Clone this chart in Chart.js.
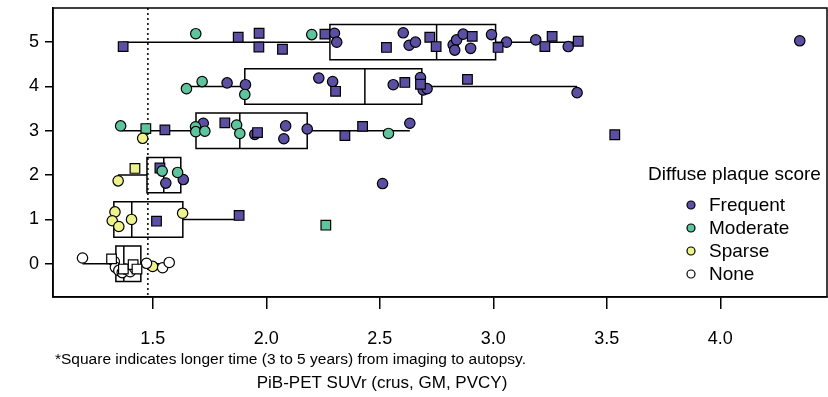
<!DOCTYPE html>
<html>
<head>
<meta charset="utf-8">
<script src="https://cdn.jsdelivr.net/npm/chart.js@4.4.1/dist/chart.umd.min.js"></script>
<style>
  html, body { margin: 0; padding: 0; background: #fff; }
</style>
</head>
<body>
<canvas id="myChart" width="828" height="397"></canvas>
<script>
// ---- data ----
const xTicks = [1.5, 2.0, 2.5, 3.0, 3.5, 4.0];
const yTicks = [0, 1, 2, 3, 4, 5];
const cutoff = 1.478;

// box plot per plaque row (0..5)
const boxRows = [0, 1, 2, 3, 4, 5];
const boxMin = [1.19, 1.328, 1.346, 1.363, 1.648, 1.369];
const boxQ1  = [1.337, 1.328, 1.474, 1.69, 1.905, 2.28];
const boxMed = [1.372, 1.407, 1.548, 1.883, 2.434, 2.75];
const boxQ3  = [1.447, 1.632, 1.623, 2.18, 2.685, 3.01];
const boxMax = [1.572, 1.88, 1.634, 2.632, 3.369, 3.374];

// diffuse plaque score groups
const groups = ['Frequent', 'Moderate', 'Sparse', 'None'];
const groupColors = ['#5b4fa3', '#5ec49d', '#eef28b', '#ffffff'];

// [SUVr, jittered score] ; circles = shorter time, squares = 3 to 5 years
const frequentCircles = [
  [2.30, 5.20], [2.31, 5.00], [2.603, 5.21], [2.629, 4.93], [2.657, 5.00], [2.823, 4.94],
  [2.838, 5.05], [2.867, 5.18], [2.830, 4.82], [2.900, 4.86], [2.992, 5.17], [3.058, 5.00],
  [3.187, 5.05], [3.33, 4.90], [4.35, 5.03],
  [1.827, 4.08], [1.908, 4.04], [2.231, 4.19], [2.292, 4.11], [2.559, 4.04], [2.679, 4.20],
  [2.691, 3.92], [2.708, 3.95], [3.369, 3.86],
  [1.722, 3.17], [1.949, 2.92], [2.085, 3.11], [2.077, 2.82], [2.18, 3.04], [2.632, 3.17],
  [1.557, 1.82], [1.634, 1.90], [2.512, 1.81]
];
const frequentSquares = [
  [1.369, 4.90], [1.876, 5.11], [1.968, 5.20], [1.967, 4.89], [2.071, 4.84], [2.258, 5.18],
  [2.529, 4.88], [2.72, 5.11], [2.748, 4.90], [2.907, 5.13], [3.021, 4.88], [3.227, 4.90],
  [3.259, 5.13], [3.374, 5.02],
  [2.305, 3.89], [2.610, 4.09], [2.679, 4.05], [2.886, 4.16],
  [1.553, 3.02], [1.817, 3.18], [1.961, 2.96], [2.346, 2.89], [2.424, 3.10], [3.535, 2.91],
  [1.531, 2.16],
  [1.516, 0.96], [1.88, 1.09]
];
const moderateCircles = [
  [1.689, 5.19], [2.20, 5.17],
  [1.648, 3.95], [1.717, 4.11], [1.905, 3.82],
  [1.358, 3.11], [1.688, 3.09], [1.689, 2.98], [1.729, 2.99], [1.869, 3.13], [1.883, 2.94], [2.538, 2.94],
  [1.541, 2.09], [1.609, 2.06]
];
const moderateSquares = [[1.469, 3.05], [2.262, 0.87]];
const sparseCircles = [
  [1.455, 2.83], [1.347, 1.87],
  [1.333, 1.17], [1.321, 0.97], [1.350, 0.84], [1.406, 1.00], [1.631, 1.14],
  [1.499, -0.06]
];
const sparseSquares = [[1.421, 2.15]];
const noneCircles = [
  [1.19, 0.13], [1.33, 0.05], [1.335, -0.08], [1.35, -0.15], [1.365, -0.20], [1.38, -0.12],
  [1.40, -0.18], [1.42, -0.10], [1.472, 0.01], [1.543, -0.09], [1.572, 0.03]
];
const noneSquares = [[1.318, 0.11], [1.37, -0.12], [1.413, -0.02], [1.43, -0.12]];

const footnote = '*Square indicates longer time (3 to 5 years) from imaging to autopsy.';
const xTitle = 'PiB-PET SUVr (crus, GM, PVCY)';
const legendTitle = 'Diffuse plaque score';

// ---- chart ----
const FONT = '"Liberation Sans", Arial, Helvetica, sans-serif';
const toPts = arr => arr.map(p => ({ x: p[0], y: p[1] }));

const pointSets = [
  [frequentCircles, frequentSquares],
  [moderateCircles, moderateSquares],
  [sparseCircles, sparseSquares],
  [noneCircles, noneSquares]
];

const datasets = [];
pointSets.forEach((pair, i) => {
  datasets.push({
    label: groups[i], data: toPts(pair[0]), pointStyle: 'circle', pointRadius: 5.2,
    backgroundColor: groupColors[i], borderColor: '#000', borderWidth: 1.2
  });
  datasets.push({
    label: groups[i] + ' (3-5 y)', data: toPts(pair[1]), pointStyle: 'rect', pointRadius: 6.8,
    backgroundColor: groupColors[i], borderColor: '#000', borderWidth: 1.2
  });
});
datasets.reverse(); // frequent drawn last, on top

const boxPlugin = {
  id: 'boxes',
  beforeDatasetsDraw(chart) {
    const { ctx, chartArea, scales: { x, y } } = chart;
    ctx.save();
    ctx.strokeStyle = '#000';
    ctx.lineWidth = 1.5;
    boxRows.forEach((r, i) => {
      const yc = y.getPixelForValue(r);
      const yt = y.getPixelForValue(r + 0.4);
      const yb = y.getPixelForValue(r - 0.4);
      const x0 = x.getPixelForValue(boxMin[i]);
      const x1 = x.getPixelForValue(boxQ1[i]);
      const xm = x.getPixelForValue(boxMed[i]);
      const x3 = x.getPixelForValue(boxQ3[i]);
      const x4 = x.getPixelForValue(boxMax[i]);
      ctx.beginPath();
      ctx.moveTo(x0, yc); ctx.lineTo(x1, yc);
      ctx.moveTo(x3, yc); ctx.lineTo(x4, yc);
      ctx.rect(x1, yt, x3 - x1, yb - yt);
      ctx.moveTo(xm, yt); ctx.lineTo(xm, yb);
      ctx.stroke();
    });
    // dotted cutoff line
    const xc = x.getPixelForValue(cutoff);
    ctx.setLineDash([2, 3]);
    ctx.beginPath();
    ctx.moveTo(xc, chartArea.top);
    ctx.lineTo(xc, chartArea.bottom);
    ctx.stroke();
    ctx.restore();
  },
  afterDraw(chart) {
    const { ctx, chartArea } = chart;
    ctx.save();
    // frame
    ctx.strokeStyle = '#000';
    ctx.lineWidth = 1.5;
    ctx.strokeRect(chartArea.left, chartArea.top, chartArea.right - chartArea.left, chartArea.bottom - chartArea.top);

    ctx.fillStyle = '#000';
    ctx.textBaseline = 'middle';
    ctx.textAlign = 'left';
    ctx.font = '15.5px ' + FONT;
    ctx.fillText(footnote, 55, 360);
    ctx.textAlign = 'center';
    ctx.font = '17px ' + FONT;
    ctx.fillText(xTitle, 382, 383);

    // legend
    ctx.textAlign = 'left';
    ctx.font = '19px ' + FONT;
    ctx.fillText(legendTitle, 648, 175);
    groups.forEach((g, i) => {
      const yy = 205 + i * 23;
      ctx.beginPath();
      ctx.arc(691, yy, 4, 0, Math.PI * 2);
      ctx.fillStyle = groupColors[i];
      ctx.fill();
      ctx.lineWidth = 1.2;
      ctx.stroke();
      ctx.fillStyle = '#000';
      ctx.fillText(g, 709, yy + 1);
    });
    ctx.restore();
  }
};

new Chart(document.getElementById('myChart'), {
  type: 'scatter',
  data: { datasets },
  options: {
    responsive: false,
    animation: false,
    layout: { autoPadding: false, padding: { top: 8, right: 1, left: 0, bottom: 0 } },
    plugins: { legend: { display: false }, tooltip: { enabled: false } },
    scales: {
      x: {
        type: 'linear', min: 1.06, max: 4.47,
        afterBuildTicks: s => { s.ticks = xTicks.map(v => ({ value: v })); },
        afterFit: s => { s.height = 100; s.paddingLeft = 0; s.paddingRight = 0; },
        grid: { drawOnChartArea: false, drawTicks: true, tickLength: 12, color: '#000', lineWidth: 1.5 },
        border: { display: true, color: '#000', width: 1.5 },
        ticks: { color: '#000', font: { family: FONT, size: 18 }, padding: 19, maxRotation: 0,
                 callback: v => Number(v).toFixed(1) }
      },
      y: {
        type: 'linear', min: -0.75, max: 5.77,
        afterBuildTicks: s => { s.ticks = yTicks.map(v => ({ value: v })); },
        afterFit: s => { s.width = 53; s.paddingTop = 0; s.paddingBottom = 0; },
        grid: { drawOnChartArea: false, drawTicks: true, tickLength: 8, color: '#000', lineWidth: 1.5 },
        border: { display: true, color: '#000', width: 1.5 },
        ticks: { color: '#000', font: { family: FONT, size: 18 }, padding: 6,
                 callback: v => String(v) }
      }
    }
  },
  plugins: [boxPlugin]
});
</script>
</body>
</html>
